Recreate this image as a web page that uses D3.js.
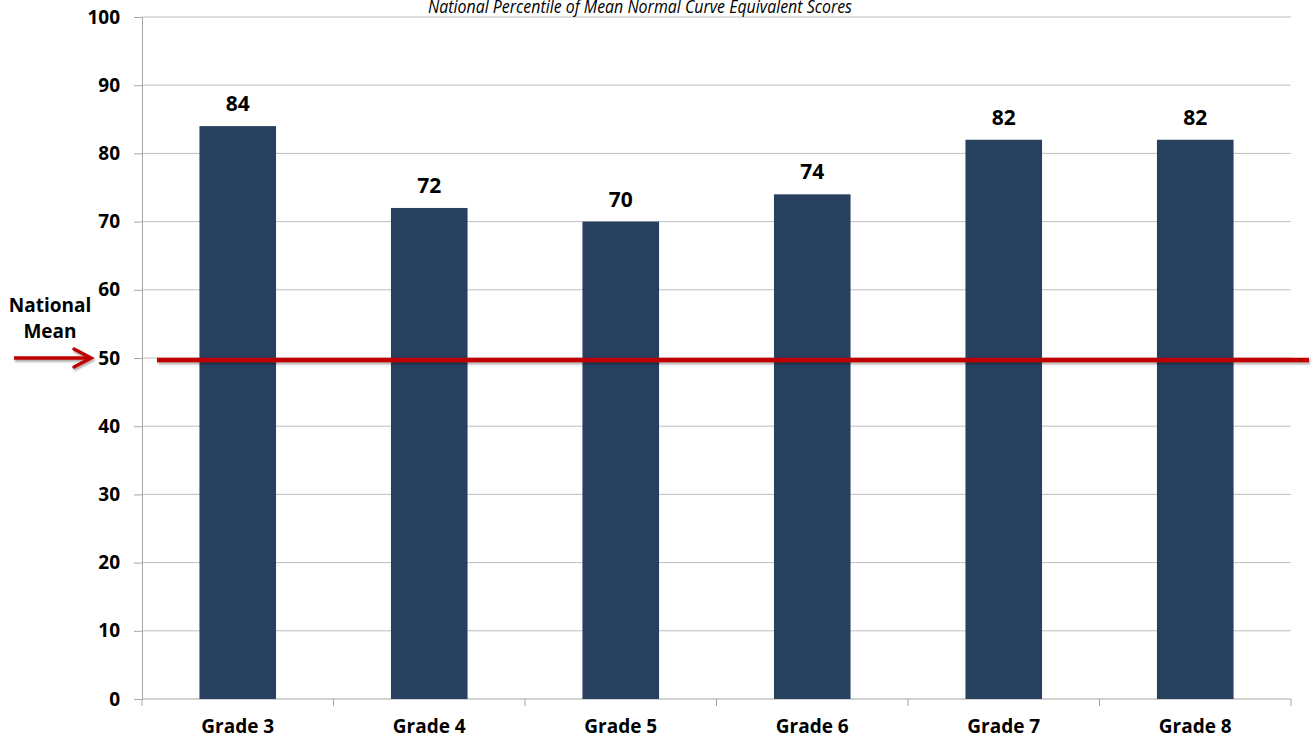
<!DOCTYPE html>
<html>
<head>
<meta charset="utf-8">
<script src="https://cdn.jsdelivr.net/npm/d3@7"></script>
<style>
  html, body { margin: 0; padding: 0; background: #fff; }
  svg text { font-family: "Open Sans", Lato, sans-serif; }
</style>
</head>
<body>
<svg id="chart" width="1312" height="738"></svg>
<script>
// Values
const grades = ["Grade 3", "Grade 4", "Grade 5", "Grade 6", "Grade 7", "Grade 8"];
const percentiles = [84, 72, 70, 74, 82, 82];
const yTicks = [0, 10, 20, 30, 40, 50, 60, 70, 80, 90, 100];
const nationalMean = [49.7];
const title = "National Percentile of Mean Normal Curve Equivalent Scores";

const margin = { top: 17, right: 21, bottom: 39, left: 142 };
const width = 1312;
const height = 738;
const innerWidth = width - margin.left - margin.right;
const innerHeight = height - margin.top - margin.bottom;

const svg = d3.select("#chart");

// soft drop shadow, in user space so thin horizontal lines keep it
const shadow = svg.append("defs").append("filter")
    .attr("id", "shadow")
    .attr("filterUnits", "userSpaceOnUse")
    .attr("x", -50).attr("y", -50).attr("width", width + 100).attr("height", height + 100);
shadow.append("feDropShadow")
    .attr("dx", 1).attr("dy", 2).attr("stdDeviation", 1.2)
    .attr("flood-color", "#000").attr("flood-opacity", 0.35);

const x = d3.scaleBand()
    .domain(grades)
    .range([0, innerWidth])
    .paddingInner(0.6)
    .paddingOuter(0.3);

const y = d3.scaleLinear()
    .domain([0, 100])
    .range([innerHeight, 0]);

const g = svg.append("g").attr("transform", `translate(${margin.left},${margin.top})`);

// horizontal gridlines
g.append("g")
    .selectAll("line")
    .data(yTicks.filter(d => d > 0))
    .enter()
    .append("line")
    .attr("x1", 0)
    .attr("x2", innerWidth)
    .attr("y1", d => y(d))
    .attr("y2", d => y(d))
    .attr("stroke", "#bfbfbf")
    .attr("stroke-width", 1);

// y axis
const yAxis = g.append("g")
    .call(d3.axisLeft(y).tickValues(yTicks).tickSize(8).tickPadding(14));
yAxis.select(".domain").attr("stroke", "#a6a6a6");
yAxis.selectAll(".tick line").attr("stroke", "#a6a6a6");
yAxis.selectAll(".tick text")
    .attr("font-size", 19)
    .attr("font-weight", "bold")
    .attr("fill", "#000")
    .attr("font-family", "'Open Sans', sans-serif");

// x axis: ticks at category boundaries
const step = x.step();
const boundaries = d3.range(grades.length + 1).map(i => i * step);
const xAxisG = g.append("g").attr("transform", `translate(0,${innerHeight})`);
xAxisG.append("line")
    .attr("x1", 0).attr("x2", innerWidth)
    .attr("stroke", "#a6a6a6");
xAxisG.selectAll(".bound")
    .data(boundaries)
    .enter()
    .append("line")
    .attr("class", "bound")
    .attr("x1", d => d).attr("x2", d => d)
    .attr("y1", 0).attr("y2", 7)
    .attr("stroke", "#a6a6a6");
xAxisG.selectAll(".cat")
    .data(grades)
    .enter()
    .append("text")
    .attr("class", "cat")
    .attr("x", d => x(d) + x.bandwidth() / 2)
    .attr("y", 34)
    .attr("text-anchor", "middle")
    .attr("font-size", 19)
    .attr("font-weight", "bold")
    .text(d => d);

// bars
const data = grades.map((d, i) => ({ grade: d, value: percentiles[i] }));

g.selectAll(".bar")
    .data(data)
    .enter()
    .append("rect")
    .attr("class", "bar")
    .attr("x", d => x(d.grade))
    .attr("y", d => y(d.value))
    .attr("width", x.bandwidth())
    .attr("height", d => innerHeight - y(d.value))
    .attr("fill", "#27405f");

g.selectAll(".bar-value")
    .data(data)
    .enter()
    .append("text")
    .attr("class", "bar-value")
    .attr("x", d => x(d.grade) + x.bandwidth() / 2)
    .attr("y", d => y(d.value) - 15)
    .attr("text-anchor", "middle")
    .attr("font-size", 21)
    .attr("font-weight", "bold")
    .text(d => d.value);

// national mean line
g.selectAll(".mean")
    .data(nationalMean)
    .enter()
    .append("line")
    .attr("class", "mean")
    .attr("x1", 15)
    .attr("x2", innerWidth + 18)
    .attr("y1", d => y(d))
    .attr("y2", d => y(d))
    .attr("stroke", "#c00000")
    .attr("stroke-width", 4.5)
    .attr("filter", "url(#shadow)");

// arrow pointing at 50
const arrowY = margin.top + y(50);
const arrow = svg.append("g").attr("filter", "url(#shadow)");
arrow.append("line")
    .attr("x1", 14).attr("x2", 89)
    .attr("y1", arrowY).attr("y2", arrowY)
    .attr("stroke", "#c00000").attr("stroke-width", 3.5);
arrow.append("path")
    .attr("d", `M${74},${arrowY - 9} L${91},${arrowY} L${74},${arrowY + 9}`)
    .attr("fill", "none")
    .attr("stroke", "#c00000")
    .attr("stroke-width", 3.5)
    .attr("stroke-linecap", "round");

svg.append("text")
    .attr("x", 50).attr("y", 312)
    .attr("text-anchor", "middle")
    .attr("font-size", 19)
    .attr("font-weight", "bold")
    .text("National");
svg.append("text")
    .attr("x", 50).attr("y", 338)
    .attr("text-anchor", "middle")
    .attr("font-size", 19)
    .attr("font-weight", "bold")
    .text("Mean");

// title, partly clipped at the top edge
svg.append("text")
    .attr("x", 640)
    .attr("y", 13)
    .attr("text-anchor", "middle")
    .attr("font-size", 18)
    .attr("font-style", "italic")
    .attr("textLength", 424)
    .attr("lengthAdjust", "spacingAndGlyphs")
    .text(title);
</script>
</body>
</html>
